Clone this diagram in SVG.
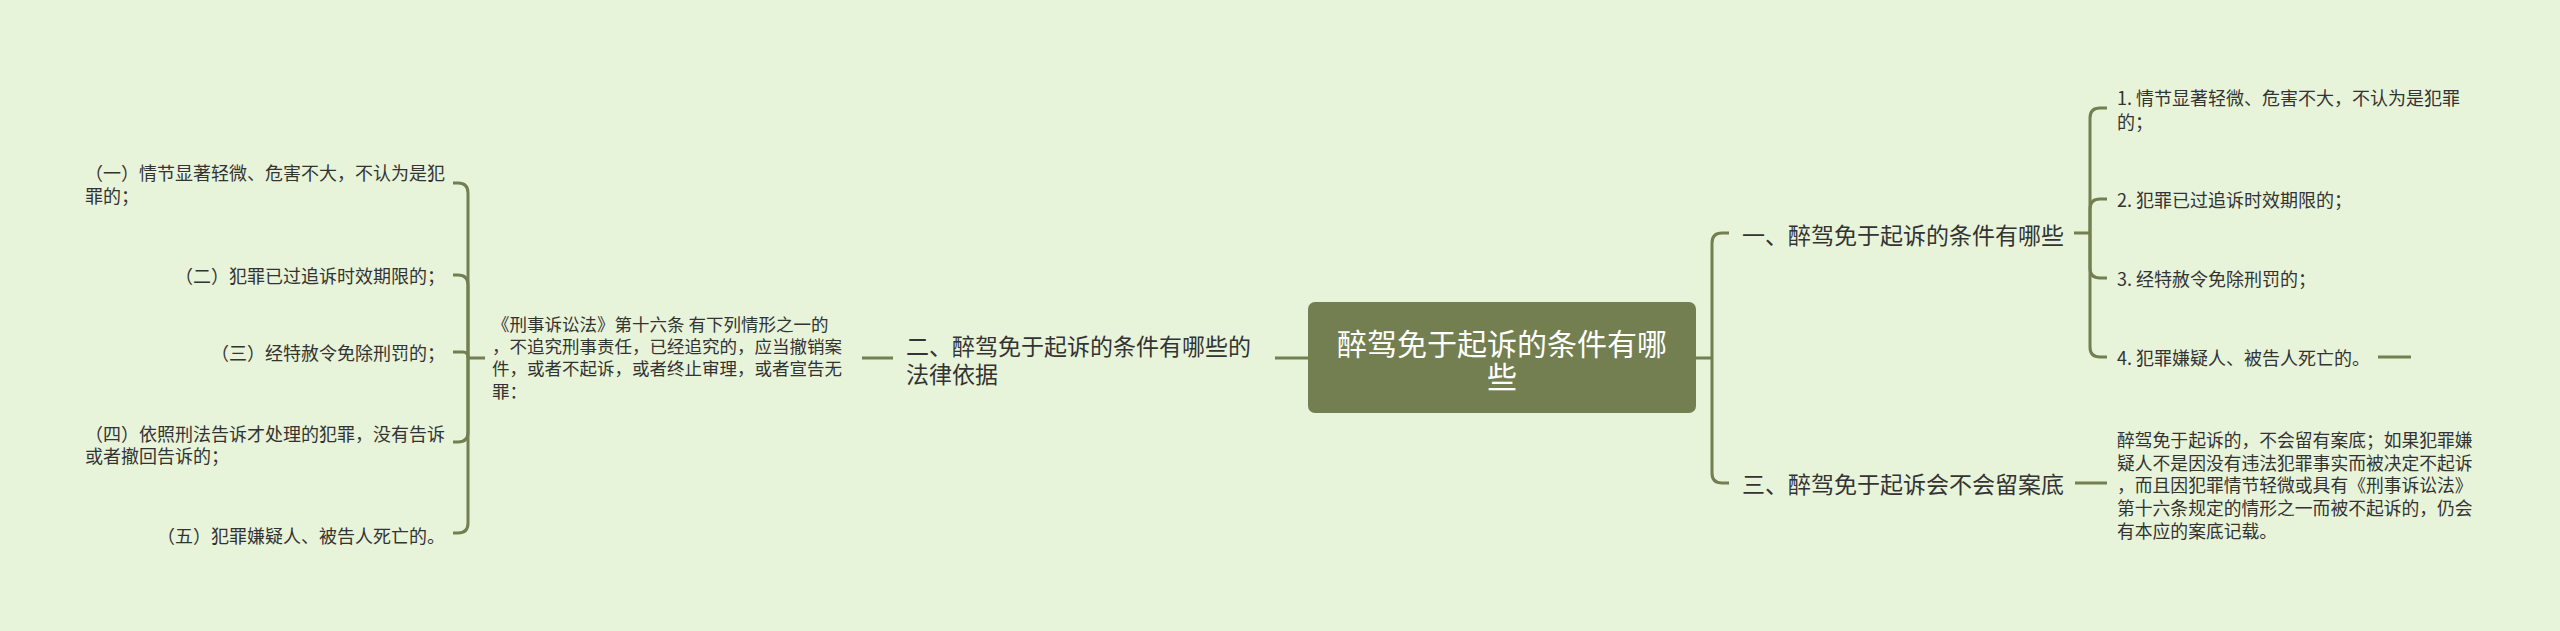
<svg xmlns="http://www.w3.org/2000/svg" width="2560" height="631" viewBox="0 0 2560 631">
<style>
.t{font-family:"Noto Sans CJK SC","Noto Sans",sans-serif;fill:#333333;dominant-baseline:central}
.t tspan{dominant-baseline:central}
.s{font-size:18px}
.m{font-size:23px}
.c{font-size:30px;fill:#ffffff}
.ln{fill:none;stroke:#737f50;stroke-width:3;stroke-linecap:butt}
</style>
<rect x="0" y="0" width="2560" height="631" fill="#e8f4da"/>
<g id="connectors">
<path class="ln" d="M1308,358 H1275"/>
<path class="ln" d="M893,358 H862"/>
<path class="ln" d="M485,358 H468"/>
<path class="ln" d="M468,358 V193 Q468,183 458,183 H453"/>
<path class="ln" d="M468,358 V285 Q468,275 458,275 H453"/>
<path class="ln" d="M468,358 V357 Q468,352 463,352 H453"/>
<path class="ln" d="M468,358 V432 Q468,442 458,442 H453"/>
<path class="ln" d="M468,358 V523 Q468,533 458,533 H453"/>
<path class="ln" d="M1696,358 H1712"/>
<path class="ln" d="M1712,358 V243 Q1712,233 1722,233 H1729"/>
<path class="ln" d="M1712,358 V473 Q1712,483 1722,483 H1729"/>
<path class="ln" d="M2074,233 H2090"/>
<path class="ln" d="M2090,233 V118 Q2090,108 2100,108 H2107"/>
<path class="ln" d="M2090,233 V209 Q2090,199 2100,199 H2107"/>
<path class="ln" d="M2090,233 V268 Q2090,278 2100,278 H2107"/>
<path class="ln" d="M2090,233 V347 Q2090,357 2100,357 H2107"/>
<path class="ln" d="M2378,357 H2411"/>
<path class="ln" d="M2075,483 H2107"/>
</g>
<g id="center">
<rect x="1308" y="302" width="388" height="111" rx="7" fill="#737f50"/>
<text class="t c" text-anchor="middle"><tspan x="1502" y="342">醉驾免于起诉的条件有哪</tspan><tspan x="1502" y="375">些</tspan></text>
</g>
<g id="n2">
<text class="t m"><tspan x="906" y="345">二、醉驾免于起诉的条件有哪些的</tspan><tspan x="906" y="373">法律依据</tspan></text>
</g>
<g id="n2-law">
<text class="t" style="font-size:17.5px"><tspan x="492" y="323">《刑事诉讼法》第十六条 有下列情形之一的</tspan><tspan x="492" y="345">，不追究刑事责任，已经追究的，应当撤销案</tspan><tspan x="492" y="367">件，或者不起诉，或者终止审理，或者宣告无</tspan><tspan x="492" y="390">罪：</tspan></text>
</g>
<g id="l1">
<text class="t s"><tspan x="445" y="172" text-anchor="end">（一）情节显著轻微、危害不大，不认为是犯</tspan><tspan x="85" y="195">罪的；</tspan></text>
</g>
<g id="l2"><text class="t s" x="445" y="275" text-anchor="end">（二）犯罪已过追诉时效期限的；</text></g>
<g id="l3"><text class="t s" x="445" y="352" text-anchor="end">（三）经特赦令免除刑罚的；</text></g>
<g id="l4">
<text class="t s"><tspan x="445" y="433" text-anchor="end">（四）依照刑法告诉才处理的犯罪，没有告诉</tspan><tspan x="85" y="455">或者撤回告诉的；</tspan></text>
</g>
<g id="l5"><text class="t s" x="445" y="535" text-anchor="end">（五）犯罪嫌疑人、被告人死亡的。</text></g>
<g id="n1"><text class="t m" x="1742" y="234">一、醉驾免于起诉的条件有哪些</text></g>
<g id="r1">
<text class="t s"><tspan x="2117" y="97">1. 情节显著轻微、危害不大，不认为是犯罪</tspan><tspan x="2117" y="121">的；</tspan></text>
</g>
<g id="r2"><text class="t s" x="2117" y="199">2. 犯罪已过追诉时效期限的；</text></g>
<g id="r3"><text class="t s" x="2117" y="278">3. 经特赦令免除刑罚的；</text></g>
<g id="r4"><text class="t s" x="2117" y="357">4. 犯罪嫌疑人、被告人死亡的。</text></g>
<g id="n3"><text class="t m" x="1742" y="483">三、醉驾免于起诉会不会留案底</text></g>
<g id="n3-text">
<text class="t" style="font-size:17.8px"><tspan x="2117" y="439">醉驾免于起诉的，不会留有案底；如果犯罪嫌</tspan><tspan x="2117" y="462">疑人不是因没有违法犯罪事实而被决定不起诉</tspan><tspan x="2117" y="484">，而且因犯罪情节轻微或具有《刑事诉讼法》</tspan><tspan x="2117" y="507">第十六条规定的情形之一而被不起诉的，仍会</tspan><tspan x="2117" y="530">有本应的案底记载。</tspan></text>
</g>
</svg>
